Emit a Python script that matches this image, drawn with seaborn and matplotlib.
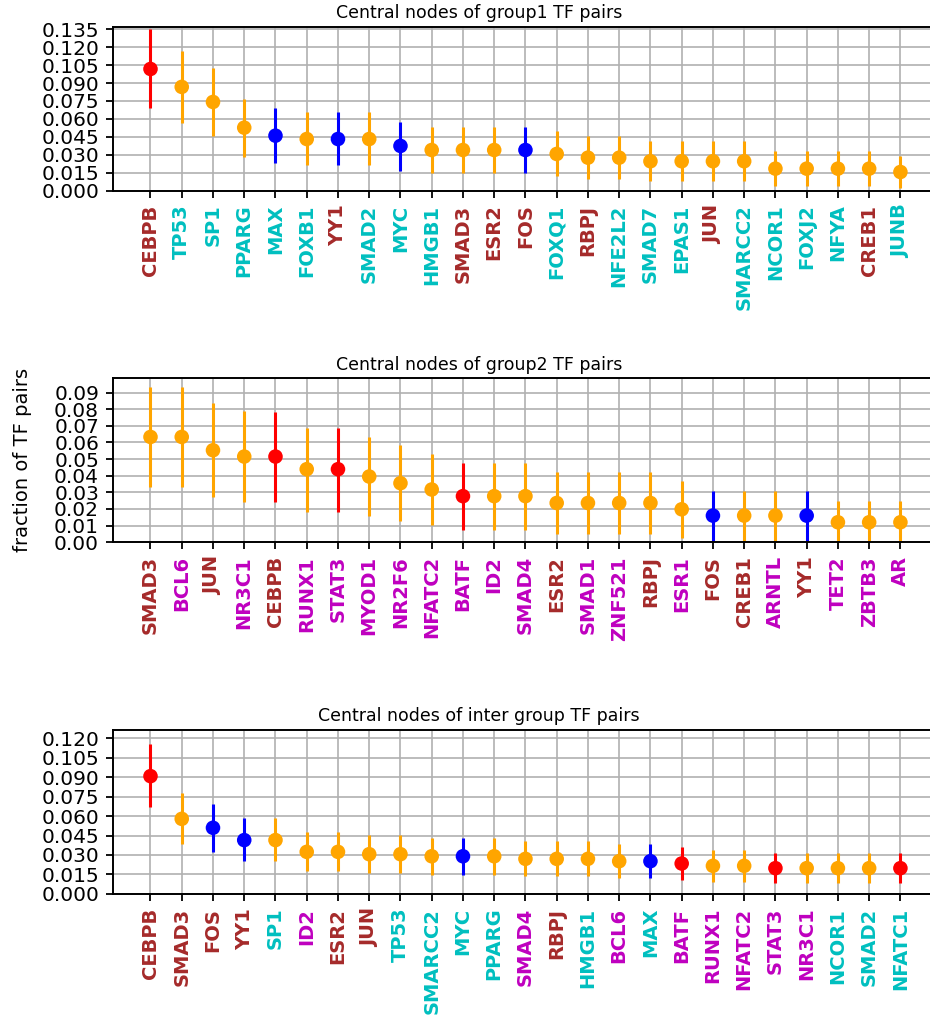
import numpy as np
import matplotlib
matplotlib.use("Agg")
import matplotlib.pyplot as plt
import seaborn as sns

# group1 TF pairs
g1_names = ["CEBPB", "TP53", "SP1", "PPARG", "MAX", "FOXB1", "YY1", "SMAD2", "MYC", "HMGB1",
            "SMAD3", "ESR2", "FOS", "FOXQ1", "RBPJ", "NFE2L2", "SMAD7", "EPAS1", "JUN", "SMARCC2",
            "NCOR1", "FOXJ2", "NFYA", "CREB1", "JUNB"]
g1_vals = [0.1018, 0.0868, 0.0742, 0.0527, 0.0460, 0.0432, 0.0432, 0.0432, 0.0374, 0.0340,
           0.0340, 0.0340, 0.0340, 0.0307, 0.0276, 0.0276, 0.0246, 0.0246, 0.0246, 0.0246,
           0.0184, 0.0184, 0.0184, 0.0184, 0.0156]
g1_lo = [0.0695, 0.0564, 0.0458, 0.0285, 0.0234, 0.0215, 0.0215, 0.0215, 0.0165, 0.0148,
         0.0148, 0.0148, 0.0148, 0.0123, 0.0098, 0.0098, 0.0078, 0.0078, 0.0078, 0.0078,
         0.0042, 0.0042, 0.0042, 0.0042, 0.0020]
g1_hi = [0.1350, 0.1170, 0.1027, 0.0767, 0.0690, 0.0656, 0.0656, 0.0656, 0.0575, 0.0536,
         0.0536, 0.0536, 0.0536, 0.0500, 0.0458, 0.0458, 0.0419, 0.0419, 0.0419, 0.0419,
         0.0332, 0.0332, 0.0332, 0.0332, 0.0290]
g1_dot = ["red", "orange", "orange", "orange", "blue", "orange", "blue", "orange", "blue", "orange",
          "orange", "orange", "blue", "orange", "orange", "orange", "orange", "orange", "orange", "orange",
          "orange", "orange", "orange", "orange", "orange"]
g1_lab = ["brown", "c", "c", "c", "c", "c", "brown", "c", "c", "c",
          "brown", "brown", "brown", "c", "brown", "c", "c", "c", "brown", "c",
          "c", "c", "c", "brown", "c"]

# group2 TF pairs
g2_names = ["SMAD3", "BCL6", "JUN", "NR3C1", "CEBPB", "RUNX1", "STAT3", "MYOD1", "NR2F6", "NFATC2",
            "BATF", "ID2", "SMAD4", "ESR2", "SMAD1", "ZNF521", "RBPJ", "ESR1", "FOS", "CREB1",
            "ARNTL", "YY1", "TET2", "ZBTB3", "AR"]
g2_vals = [0.0633, 0.0633, 0.0553, 0.0515, 0.0515, 0.0439, 0.0439, 0.0395, 0.0355, 0.0317,
           0.0277, 0.0277, 0.0277, 0.0236, 0.0236, 0.0236, 0.0236, 0.0198, 0.0160, 0.0160,
           0.0160, 0.0160, 0.0120, 0.0120, 0.0120]
g2_lo = [0.0335, 0.0335, 0.0273, 0.0242, 0.0242, 0.0182, 0.0182, 0.0156, 0.0126, 0.0104,
         0.0074, 0.0074, 0.0074, 0.0050, 0.0050, 0.0050, 0.0050, 0.0026, 0.0000, 0.0000,
         0.0000, 0.0000, 0.0000, 0.0000, 0.0000]
g2_hi = [0.0932, 0.0932, 0.0836, 0.0788, 0.0784, 0.0687, 0.0687, 0.0631, 0.0585, 0.0531,
         0.0477, 0.0477, 0.0477, 0.0423, 0.0423, 0.0423, 0.0423, 0.0369, 0.0309, 0.0309,
         0.0309, 0.0309, 0.0250, 0.0250, 0.0250]
g2_dot = ["orange", "orange", "orange", "orange", "red", "orange", "red", "orange", "orange", "orange",
          "red", "orange", "orange", "orange", "orange", "orange", "orange", "orange", "blue", "orange",
          "orange", "blue", "orange", "orange", "orange"]
g2_lab = ["brown", "m", "brown", "m", "brown", "m", "m", "m", "m", "m",
          "m", "m", "m", "brown", "m", "m", "brown", "m", "brown", "brown",
          "m", "brown", "m", "m", "m"]

# inter group TF pairs
g3_names = ["CEBPB", "SMAD3", "FOS", "YY1", "SP1", "ID2", "ESR2", "JUN", "TP53", "SMARCC2",
            "MYC", "PPARG", "SMAD4", "RBPJ", "HMGB1", "BCL6", "MAX", "BATF", "RUNX1", "NFATC2",
            "STAT3", "NR3C1", "NCOR1", "SMAD2", "NFATC1"]
g3_vals = [0.0909, 0.0579, 0.0510, 0.0415, 0.0415, 0.0324, 0.0324, 0.0306, 0.0306, 0.0290,
           0.0290, 0.0290, 0.0270, 0.0270, 0.0270, 0.0252, 0.0252, 0.0234, 0.0216, 0.0216,
           0.0198, 0.0198, 0.0198, 0.0198, 0.0198]
g3_lo = [0.0670, 0.0386, 0.0324, 0.0250, 0.0250, 0.0175, 0.0175, 0.0162, 0.0162, 0.0149,
         0.0149, 0.0149, 0.0134, 0.0134, 0.0134, 0.0121, 0.0121, 0.0106, 0.0093, 0.0093,
         0.0080, 0.0080, 0.0080, 0.0080, 0.0080]
g3_hi = [0.1154, 0.0778, 0.0693, 0.0587, 0.0587, 0.0476, 0.0476, 0.0453, 0.0453, 0.0433,
         0.0433, 0.0433, 0.0407, 0.0407, 0.0407, 0.0386, 0.0386, 0.0363, 0.0340, 0.0340,
         0.0317, 0.0317, 0.0317, 0.0317, 0.0317]
g3_dot = ["red", "orange", "blue", "blue", "orange", "orange", "orange", "orange", "orange", "orange",
          "blue", "orange", "orange", "orange", "orange", "orange", "blue", "red", "orange", "orange",
          "red", "orange", "orange", "orange", "red"]
g3_lab = ["brown", "brown", "brown", "brown", "c", "m", "brown", "brown", "c", "c",
          "c", "c", "m", "brown", "c", "m", "c", "m", "m", "m",
          "m", "m", "c", "c", "c"]


def draw_panel(ax, names, vals, lo, hi, dot_colors, label_colors, title, ystep, ymax, fmt):
    """Punti con barre d'errore verticali, un colore per ogni nodo."""
    x = np.arange(len(names))
    ax.vlines(x, lo, hi, colors=dot_colors, lw=2.2, zorder=2)
    sns.scatterplot(x=x, y=vals, hue=names, palette=dict(zip(names, dot_colors)),
                    s=110, linewidth=0, legend=False, ax=ax, zorder=3)

    ax.set_xlim(-1.2, len(names) - 1 + 1.2)
    ax.set_ylim(0, ymax)
    ax.set_xticks(x)
    ax.set_xticklabels(names, rotation=90, fontsize=14, fontweight="bold")
    for lab, col in zip(ax.get_xticklabels(), label_colors):
        lab.set_color(col)
    yt = np.arange(0, ymax, ystep)
    ax.set_yticks(yt)
    ax.set_yticklabels([fmt.format(v) for v in yt], fontsize=14.5)
    ax.set_title(title, fontsize=12.5, x=0.444, color="black")
    ax.set_xlabel("")
    ax.set_ylabel("")


sns.set_style("ticks", {"axes.grid": True, "grid.color": "#b0b0b0",
                        "axes.edgecolor": "black", "grid.linestyle": "-",
                        "text.color": "black", "xtick.color": "black",
                        "ytick.color": "black", "axes.labelcolor": "black"})
plt.rcParams["font.family"] = ["DejaVu Sans"]
plt.rcParams["grid.linewidth"] = 1.2
plt.rcParams["axes.linewidth"] = 1.4

fig = plt.figure(figsize=(9.3, 10.25), dpi=100)
bottoms = [0.814, 0.471, 0.128]
axes = [fig.add_axes([0.1215, b, 0.887, 0.160]) for b in bottoms]

draw_panel(axes[0], g1_names, g1_vals, g1_lo, g1_hi, g1_dot, g1_lab,
           "Central nodes of group1 TF pairs", 0.015, 0.1372, "{:.3f}")
draw_panel(axes[1], g2_names, g2_vals, g2_lo, g2_hi, g2_dot, g2_lab,
           "Central nodes of group2 TF pairs", 0.01, 0.0986, "{:.2f}")
draw_panel(axes[2], g3_names, g3_vals, g3_lo, g3_hi, g3_dot, g3_lab,
           "Central nodes of inter group TF pairs", 0.015, 0.1267, "{:.3f}")

for ax in axes:
    ax.tick_params(axis="both", length=5, width=1.3, color="black", pad=5)
    ax.set_axisbelow(True)

axes[1].set_ylabel("fraction of TF pairs", fontsize=14)
axes[1].yaxis.set_label_coords(-0.098, 0.5)

fig.savefig("out.png", dpi=100)
